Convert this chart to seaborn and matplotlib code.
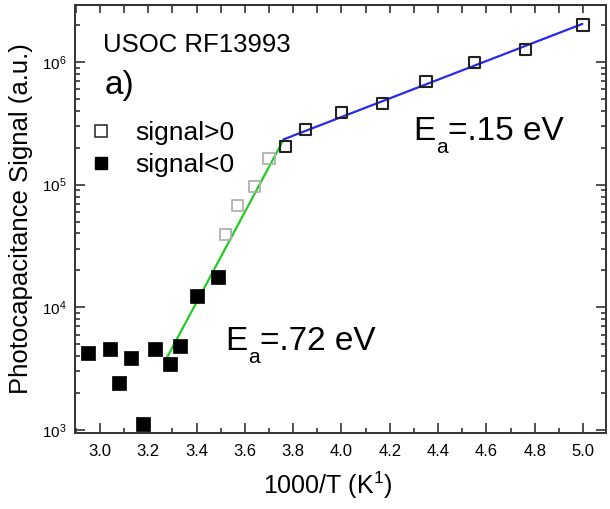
import matplotlib
matplotlib.use("Agg")
import matplotlib.pyplot as plt
from matplotlib.text import Annotation
from matplotlib.ticker import MultipleLocator, LogLocator, NullFormatter, FormatStrFormatter
from matplotlib.lines import Line2D
import seaborn as sns
import pandas as pd

# Photocapacitance signal versus inverse temperature
pos_x = [3.52, 3.57, 3.64, 3.70, 3.77, 3.85, 4.00, 4.17, 4.35, 4.55, 4.76, 5.00]
pos_y = [39500, 67300, 96200, 163700, 206000, 282000, 385000, 460000, 690000, 993000, 1270000, 2000000]
pos_faint = [True, True, True, True, False, False, False, False, False, False, False, False]

neg_x = [2.95, 3.04, 3.08, 3.13, 3.18, 3.23, 3.29, 3.33, 3.40, 3.49]
neg_y = [4270, 4600, 2400, 3880, 1120, 4600, 3450, 4840, 12360, 17700]

# Arrhenius fits on both sides of the kink
fit_low_x = [3.276, 3.761]
fit_low_y = [3840, 234000]
fit_high_x = [3.761, 4.997]
fit_high_y = [234000, 2040000]

sample_label = "USOC RF13993"
panel_label = "a)"
ea_symbol = ["E", "a"]
ea_low_value = "=.72 eV"
ea_high_value = "=.15 eV"
legend_labels = ["signal>0", "signal<0"]

sns.set_theme(style="ticks")
plt.rcParams["font.family"] = ["Liberation Sans", "DejaVu Sans"]
plt.rcParams["mathtext.fontset"] = "custom"
plt.rcParams["mathtext.rm"] = "Liberation Sans"
plt.rcParams["mathtext.it"] = "Liberation Sans"
plt.rcParams["mathtext.default"] = "regular"
for key in ["text.color", "axes.labelcolor", "xtick.color", "ytick.color"]:
    plt.rcParams[key] = "black"

W, H = 610, 509
fig = plt.figure(figsize=(W / 100, H / 100), dpi=100)
ax = fig.add_axes([75 / W, 1 - 433 / H, 531 / W, 428 / H])

pos_df = pd.DataFrame({"x": pos_x, "y": pos_y, "faint": pos_faint})
neg_df = pd.DataFrame({"x": neg_x, "y": neg_y})

sns.lineplot(x=fit_low_x, y=fit_low_y, ax=ax, color="#22cc22", lw=1.6, sort=False, zorder=2)
sns.lineplot(x=fit_high_x, y=fit_high_y, ax=ax, color="#2828ee", lw=1.6, sort=False, zorder=2)

faint = pos_df[pos_df["faint"]]
dark = pos_df[~pos_df["faint"]]
sns.scatterplot(data=faint, x="x", y="y", ax=ax, marker="s", s=64,
                facecolor="none", edgecolor="#b0b0b0", linewidth=1.3, zorder=3)
sns.scatterplot(data=dark, x="x", y="y", ax=ax, marker="s", s=64,
                facecolor="none", edgecolor="#222222", linewidth=1.5, zorder=3)
sns.scatterplot(data=neg_df, x="x", y="y", ax=ax, marker="s", s=90,
                color="black", edgecolor="black", linewidth=0.5, zorder=3)

ax.set_yscale("log")
ax.set_xlim(2.897, 5.095)
ax.set_ylim(946, 2.91e6)

ax.xaxis.set_major_locator(MultipleLocator(0.2))
ax.xaxis.set_minor_locator(MultipleLocator(0.1))
ax.xaxis.set_major_formatter(FormatStrFormatter("%.1f"))
ax.yaxis.set_major_locator(LogLocator(base=10))
ax.yaxis.set_minor_locator(LogLocator(base=10, subs=range(2, 10)))
ax.yaxis.set_minor_formatter(NullFormatter())

ax.tick_params(which="both", direction="in", top=False, right=True, color="#333333", width=1.2)
ax.tick_params(which="major", length=7)
ax.tick_params(which="minor", length=3.5)
ax.tick_params(axis="x", which="major", labelsize=12, pad=8)
ax.tick_params(axis="y", which="major", labelsize=11, pad=6)

top = ax.secondary_xaxis("top")
top.xaxis.set_major_locator(MultipleLocator(0.1))
top.xaxis.set_major_formatter(NullFormatter())
top.tick_params(direction="in", length=6, color="#333333", width=1.2)

for sp in list(ax.spines.values()) + list(top.spines.values()):
    sp.set_color("#333333")
    sp.set_linewidth(1.4)

ax.set_xlabel("1000/T (K$^{1}$)", fontsize=18)
ax.set_ylabel("Photocapacitance Signal (a.u.)", fontsize=18.5)
ax.xaxis.set_label_coords(0.476, -0.085)
ax.yaxis.set_label_coords(-0.079, 0.5)

handles = [
    Line2D([], [], ls="none", marker="s", markersize=8, markerfacecolor="white",
           markeredgecolor="#222222", markeredgewidth=1.1),
    Line2D([], [], ls="none", marker="s", markersize=8, markerfacecolor="black",
           markeredgecolor="black"),
]
ax.legend(handles, legend_labels, loc="upper left", bbox_to_anchor=(0.025, 0.728),
          frameon=False, fontsize=19, handlelength=1.0, handletextpad=0.8,
          labelspacing=0.3, borderpad=0, borderaxespad=0)

fig.text(103 / W, 1 - 52 / H, sample_label, fontsize=18.5, va="baseline", ha="left")
fig.text(105 / W, 1 - 94 / H, panel_label, fontsize=24, va="baseline", ha="left")


def activation_label(x0, base, value):
    """Write E, a lowered subscript a, then the value, each placed after the last."""
    yb = 1 - base / H
    t_e = fig.text(x0 / W, yb, ea_symbol[0], fontsize=24, va="baseline", ha="left")
    t_a = fig.add_artist(Annotation(
        ea_symbol[1], xy=(1, yb), xycoords=(t_e, "figure fraction"),
        xytext=(0.5, -9.5), textcoords="offset points",
        fontsize=15, va="baseline", ha="left"))
    fig.add_artist(Annotation(
        value, xy=(1, yb), xycoords=(t_a, "figure fraction"),
        xytext=(0.5, 0), textcoords="offset points",
        fontsize=24, va="baseline", ha="left"))


activation_label(225, 350, ea_low_value)
activation_label(413, 140, ea_high_value)

fig.savefig("out.png", dpi=100)
